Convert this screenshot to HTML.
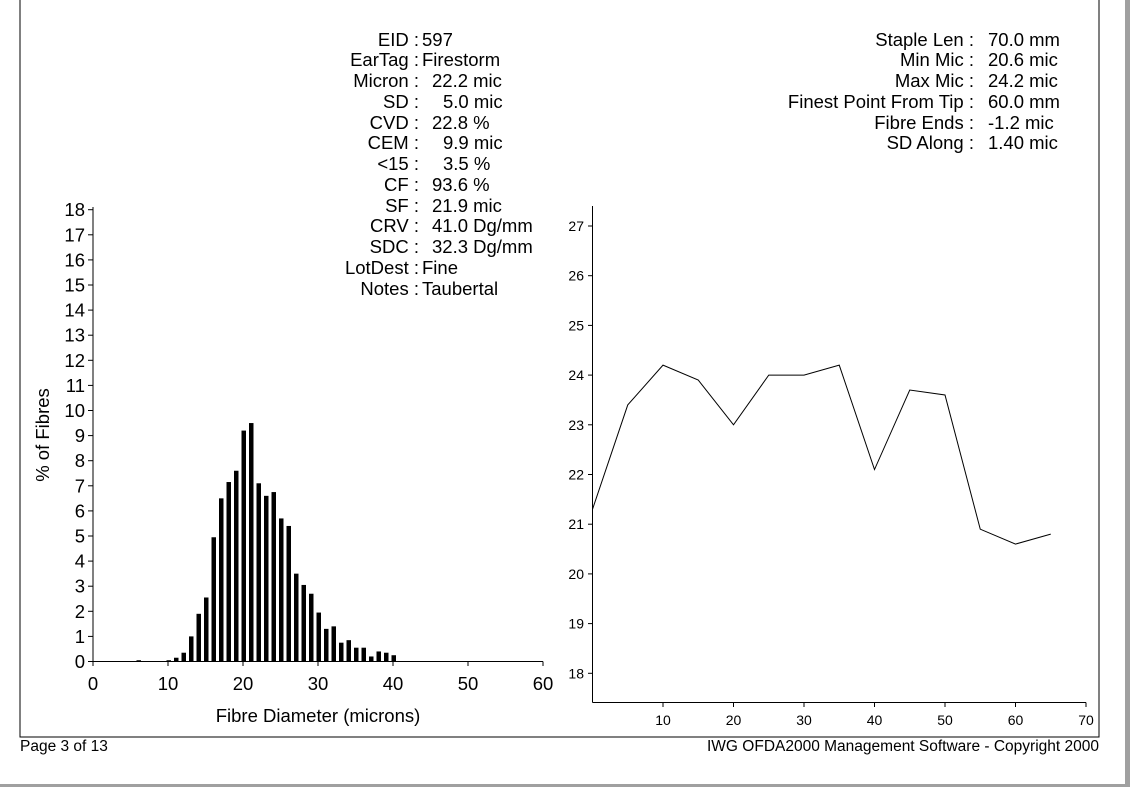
<!DOCTYPE html>
<html><head><meta charset="utf-8"><style>
html,body{margin:0;padding:0;background:#fff;}
svg{display:block;font-family:"Liberation Sans",Arial,sans-serif;}
</style></head><body>
<svg width="1130" height="787" viewBox="0 0 1130 787" xmlns="http://www.w3.org/2000/svg">
<rect x="0" y="0" width="1130" height="787" fill="#fff"/>
<rect x="1125" y="0" width="5" height="787" fill="#a0a0a0"/>
<rect x="0" y="784" width="1130" height="3" fill="#a0a0a0"/>
<polyline points="20,0 20,737 1099,737 1099,0" fill="none" stroke="#000" stroke-width="1"/>

<g font-size="18.5" fill="#000">
<g text-anchor="end">
<text x="419" y="46">EID :</text>
<text x="419" y="66">EarTag :</text>
<text x="419" y="87">Micron :</text>
<text x="419" y="108">SD :</text>
<text x="419" y="129">CVD :</text>
<text x="419" y="149">CEM :</text>
<text x="419" y="170">&lt;15 :</text>
<text x="419" y="191">CF :</text>
<text x="419" y="212">SF :</text>
<text x="419" y="232">CRV :</text>
<text x="419" y="253">SDC :</text>
<text x="419" y="274">LotDest :</text>
<text x="419" y="295">Notes :</text>
</g>
<text x="422" y="46">597</text>
<text x="422" y="66">Firestorm</text>
<text x="432" y="87">22.2 mic</text>
<text x="443" y="108">5.0 mic</text>
<text x="432" y="129">22.8 %</text>
<text x="443" y="149">9.9 mic</text>
<text x="443" y="170">3.5 %</text>
<text x="432" y="191">93.6 %</text>
<text x="432" y="212">21.9 mic</text>
<text x="432" y="232">41.0 Dg/mm</text>
<text x="432" y="253">32.3 Dg/mm</text>
<text x="422" y="274">Fine</text>
<text x="422" y="295">Taubertal</text>

<g text-anchor="end">
<text x="974" y="46">Staple Len :</text>
<text x="974" y="66">Min Mic :</text>
<text x="974" y="87">Max Mic :</text>
<text x="974" y="108">Finest Point From Tip :</text>
<text x="974" y="129">Fibre Ends :</text>
<text x="974" y="149">SD Along :</text>
</g>
<text x="988" y="46">70.0 mm</text>
<text x="988" y="66">20.6 mic</text>
<text x="988" y="87">24.2 mic</text>
<text x="988" y="108">60.0 mm</text>
<text x="988" y="129">-1.2 mic</text>
<text x="988" y="149">1.40 mic</text>
</g>

<g stroke="#000" stroke-width="1">
<line x1="93" y1="207" x2="93" y2="661.5"/>
<line x1="93" y1="661.5" x2="543" y2="661.5"/>
</g>
<g id="lt" stroke="#000" stroke-width="1"></g>
<g id="lbl" font-size="18.5" text-anchor="end"></g>
<g id="xl" font-size="18.5" text-anchor="middle"></g>
<g id="bars" fill="#000"></g>
<text x="49" y="435" font-size="18.5" text-anchor="middle" transform="rotate(-90 49 435)">% of Fibres</text>
<text x="318" y="722" font-size="18.5" text-anchor="middle">Fibre Diameter (microns)</text>

<g stroke="#000" stroke-width="1">
<line x1="592.5" y1="206" x2="592.5" y2="702.5"/>
<line x1="592.5" y1="702.5" x2="1086" y2="702.5"/>
</g>
<g id="rt" stroke="#000" stroke-width="1"></g>
<g id="rl" font-size="14" text-anchor="end"></g>
<g id="rx" font-size="14" text-anchor="middle"></g>
<polyline id="ln" fill="none" stroke="#000" stroke-width="1"/>

<text x="20" y="751" font-size="15.5">Page 3 of 13</text>
<text x="1099" y="751" font-size="15.5" text-anchor="end">IWG OFDA2000 Management Software - Copyright 2000</text>
</svg>
<script>
var NS="http://www.w3.org/2000/svg";
function el(p,t,a,txt){var e=document.createElementNS(NS,t);for(var k in a)e.setAttribute(k,a[k]);if(txt!=null)e.textContent=txt;document.getElementById(p).appendChild(e);}
for(var i=0;i<=18;i++){var y=661.5-i*25.1;el('lt','line',{x1:88,y1:y,x2:93,y2:y});el('lbl','text',{x:85,y:y+6.5},i);}
for(var i=0;i<=6;i++){var x=93+i*75;el('lt','line',{x1:x,y1:661.5,x2:x,y2:666});el('xl','text',{x:x,y:690},i*10);}
var d={6:0.05,10:0.05,11:0.15,12:0.35,13:1.0,14:1.9,15:2.55,16:4.95,17:6.5,18:7.15,19:7.6,20:9.2,21:9.5,22:7.1,23:6.6,24:6.75,25:5.7,26:5.4,27:3.5,28:3.05,29:2.7,30:1.95,31:1.3,32:1.4,33:0.75,34:0.85,35:0.55,36:0.55,37:0.2,38:0.4,39:0.35,40:0.25};
for(var k in d){var h=d[k]*25.1;el('bars','rect',{x:93+k*7.5-1.5,y:661.5-h,width:4.5,height:h});}
for(var v=18;v<=27;v++){var y=226+(27-v)*49.7;el('rt','line',{x1:588,y1:y,x2:592.5,y2:y});el('rl','text',{x:584,y:y+5},v);}
for(var v=10;v<=70;v+=10){var x=592.5+v*7.05;el('rt','line',{x1:x,y1:702.5,x2:x,y2:707});el('rx','text',{x:x,y:725},v);}
var pts=[[0,21.3],[5,23.4],[10,24.2],[15,23.9],[20,23],[25,24],[30,24],[35,24.2],[40,22.1],[45,23.7],[50,23.6],[55,20.9],[60,20.6],[65,20.8]];
document.getElementById('ln').setAttribute('points',pts.map(function(p){return (592.5+p[0]*7.05)+','+(226+(27-p[1])*49.7);}).join(' '));
</script>
</body></html>
